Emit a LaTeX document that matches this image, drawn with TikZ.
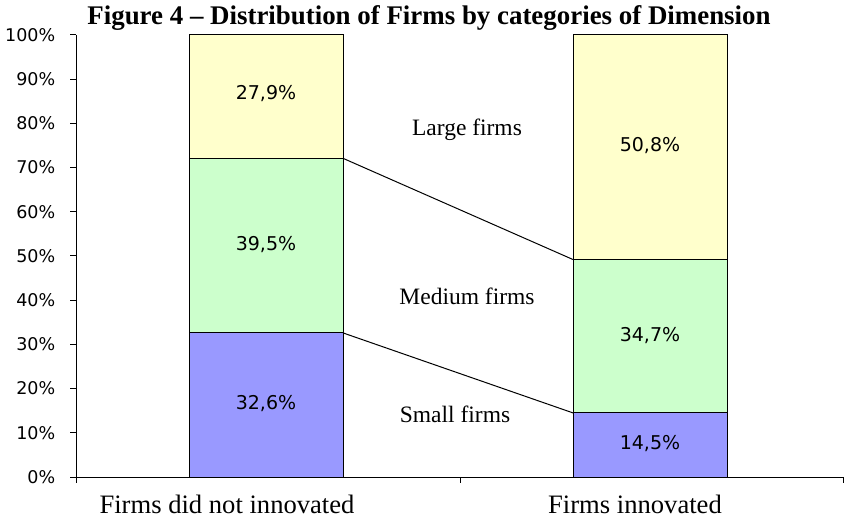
\documentclass[tikz,border=0pt]{standalone}
\usepackage{fontspec}
\setmainfont{Liberation Serif}
\newfontfamily\chartfont{DejaVu Sans}
\definecolor{largefill}{HTML}{FFFFCC}
\definecolor{mediumfill}{HTML}{CCFFCC}
\definecolor{smallfill}{HTML}{9999FF}
\tikzset{
  barpart/.style={draw=black,line width=1pt},
  valuelabel/.style={font=\chartfont\fontsize{19}{20}\selectfont},
  ticklabel/.style={anchor=east,font=\chartfont\fontsize{17.5}{18}\selectfont},
  catlabel/.style={anchor=base,font=\fontsize{23.5}{24}\selectfont},
  axislabel/.style={anchor=base,font=\fontsize{26.6}{28}\selectfont}
}
\begin{document}
\begin{tikzpicture}[x=1pt,y=-1pt,line width=1pt]
\useasboundingbox (0,0) rectangle (845,518);
\node[anchor=base,font=\bfseries\fontsize{26.9}{28}\selectfont] (title) at (429,25) {Figure 4 -- Distribution of Firms by categories of Dimension};
% axes
\draw (76,35) -- (76,477) -- (843,477);
\foreach \p in {0,10,...,100} {
  \draw (70,{477-4.42*\p}) -- (76,{477-4.42*\p});
  \node[ticklabel] (tick\p) at (59,{477-4.42*\p}) {\p\%};
}
\foreach \x in {76,460,843}
  \draw (\x,477) -- (\x,483);
% bar 1
\draw[barpart,fill=smallfill] (189,477) rectangle (343,{477-4.42*32.6});
\draw[barpart,fill=mediumfill] (189,{477-4.42*32.6}) rectangle (343,{477-4.42*72.1});
\draw[barpart,fill=largefill] (189,{477-4.42*72.1}) rectangle (343,35);
\node[valuelabel] (s1) at (266,404) {32,6\%};
\node[valuelabel] (m1) at (266,244.5) {39,5\%};
\node[valuelabel] (l1) at (266,94) {27,9\%};
% bar 2
\draw[barpart,fill=smallfill] (573,477) rectangle (727,{477-4.42*14.5});
\draw[barpart,fill=mediumfill] (573,{477-4.42*14.5}) rectangle (727,{477-4.42*49.2});
\draw[barpart,fill=largefill] (573,{477-4.42*49.2}) rectangle (727,35);
\node[valuelabel] (s2) at (650,444) {14,5\%};
\node[valuelabel] (m2) at (650,336) {34,7\%};
\node[valuelabel] (l2) at (650,146) {50,8\%};
% series lines
\coordinate (sm1) at (343,{477-4.42*32.6});
\coordinate (ml1) at (343,{477-4.42*72.1});
\coordinate (sm2) at (573,{477-4.42*14.5});
\coordinate (ml2) at (573,{477-4.42*49.2});
\draw (ml1) -- (ml2);
\draw (sm1) -- (sm2);
% categories
\node[catlabel] (large) at (467,136) {Large firms};
\node[catlabel] (medium) at (467,305) {Medium firms};
\node[catlabel] (small) at (455,422) {Small firms};
\node[axislabel] (cat1) at (227,513) {Firms did not innovated};
\node[axislabel] (cat2) at (635,513) {Firms innovated};
\end{tikzpicture}
\end{document}
